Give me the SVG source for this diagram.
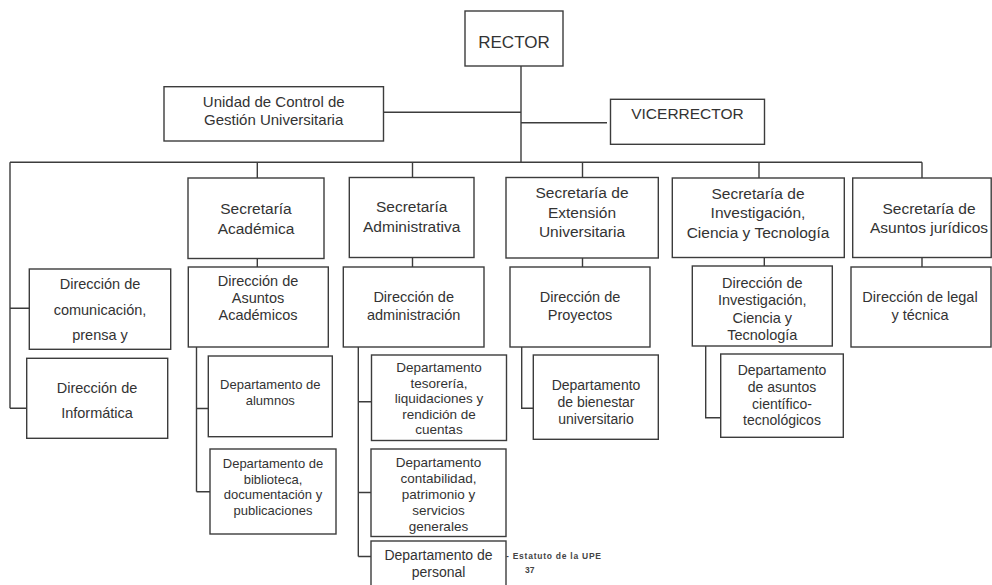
<svg xmlns="http://www.w3.org/2000/svg" width="992" height="585" viewBox="0 0 992 585">
<style>
.b{fill:#fff;stroke:#3c3c3c;stroke-width:1.4}
.c{fill:none;stroke:#3c3c3c;stroke-width:1.4}
text{font-family:"Liberation Sans",Arial,sans-serif;fill:#333;text-anchor:middle}
.f17{font-size:17px}.f15{font-size:15.5px}.f145{font-size:14.5px}.f14{font-size:14px}.f13{font-size:13px}.f135{font-size:13.5px}
.note{font-size:8.5px;font-weight:bold;text-anchor:start;fill:#444}
</style>
<rect width="992" height="585" fill="#fff"/>
<g id="connectors">
<path class="c" d="M521 66V162M384 112.3H521M521 122.7H607"/>
<path class="c" d="M10 162.3H922M10 162.3V408.3M10 308.3H29.3M10 408.3H26.7"/>
<path class="c" d="M257.3 162.3V178M412.5 162.3V178M582.5 162.3V178M759 162.3V178M922 162.3V178"/>
<path class="c" d="M257.3 258V267M412.5 258V267M582.5 258V267M764.3 258V266M922 258V267"/>
<path class="c" d="M196.5 347V491.7M196.5 408.5H208.3M196.5 491.7H210"/>
<path class="c" d="M358.3 347V556.5M358.3 401.7H371.5M358.3 492.5H371M358.3 556.5H371"/>
<path class="c" d="M521.7 347V408.3H533.3"/>
<path class="c" d="M705.7 346V417.7H720.7"/>
</g>
<g id="rector"><rect class="b" x="465" y="11" width="98" height="55"/><text class="f17" x="514" y="48">RECTOR</text></g>
<g id="unidad"><rect class="b" x="164" y="86.7" width="219.5" height="54.3"/><text x="273.7" y="106.5" style="font-size:15px">Unidad de Control de</text><text x="273.7" y="125" style="font-size:15px">Gestión Universitaria</text></g>
<g id="vicerrector"><rect class="b" x="610.5" y="99.3" width="154" height="45"/><text class="f15" x="687.5" y="119.3">VICERRECTOR</text></g>

<g id="sec-academica"><rect class="b" x="188" y="178" width="136" height="80.5"/><text class="f15" x="256" y="214">Secretaría</text><text class="f15" x="256" y="233.5">Académica</text></g>
<g id="sec-administrativa"><rect class="b" x="349.3" y="177.5" width="124.7" height="80"/><text class="f15" x="411.7" y="212">Secretaría</text><text class="f15" x="411.7" y="232">Administrativa</text></g>
<g id="sec-extension"><rect class="b" x="506" y="177.5" width="152.3" height="80.5"/><text class="f15" x="582" y="198">Secretaría de</text><text class="f15" x="582" y="217.5">Extensión</text><text class="f15" x="582" y="237">Universitaria</text></g>
<g id="sec-investigacion"><rect class="b" x="672.3" y="178" width="172" height="79.5"/><text class="f15" x="758" y="198.5">Secretaría de</text><text class="f15" x="758" y="218">Investigación,</text><text class="f15" x="758" y="237.5">Ciencia y Tecnología</text></g>
<g id="sec-juridicos"><rect class="b" x="852.7" y="178" width="138.5" height="79.5"/><text class="f15" x="929" y="213.5">Secretaría de</text><text class="f15" x="929" y="233">Asuntos jurídicos</text></g>

<g id="dir-comunicacion"><rect class="b" x="29.3" y="269" width="141.4" height="80.3"/><text class="f145" x="100" y="289">Dirección de</text><text class="f145" x="100" y="315">comunicación,</text><text class="f145" x="100" y="340">prensa y</text></g>
<g id="dir-informatica"><rect class="b" x="26.7" y="358.3" width="141" height="80"/><text class="f145" x="97" y="393.3">Dirección de</text><text class="f145" x="97" y="418.3">Informática</text></g>
<g id="dir-asuntos-academicos"><rect class="b" x="188.3" y="267" width="140" height="80"/><text class="f145" x="258" y="286">Dirección de</text><text class="f145" x="258" y="303">Asuntos</text><text class="f145" x="258" y="320">Académicos</text></g>
<g id="dir-administracion"><rect class="b" x="343.3" y="267" width="140.7" height="80"/><text class="f145" x="413.7" y="302">Dirección de</text><text class="f145" x="413.7" y="319.5">administración</text></g>
<g id="dir-proyectos"><rect class="b" x="510" y="267" width="140" height="80"/><text class="f145" x="580" y="302">Dirección de</text><text class="f145" x="580" y="319.5">Proyectos</text></g>
<g id="dir-investigacion"><rect class="b" x="692.3" y="266" width="140" height="80"/><text class="f145" x="762.3" y="287.5">Dirección de</text><text class="f145" x="762.3" y="305">Investigación,</text><text class="f145" x="762.3" y="322.5">Ciencia y</text><text class="f145" x="762.3" y="340">Tecnología</text></g>
<g id="dir-legal"><rect class="b" x="851" y="267" width="140" height="80"/><text class="f145" x="920" y="302">Dirección de legal</text><text class="f145" x="920" y="319.5">y técnica</text></g>

<g id="dep-alumnos"><rect class="b" x="208.3" y="356" width="124" height="80.7"/><text class="f13" x="270.3" y="389">Departamento de</text><text class="f13" x="270.3" y="405">alumnos</text></g>
<g id="dep-biblioteca"><rect class="b" x="210" y="449" width="126" height="85"/><text class="f13" x="273" y="468">Departamento de</text><text class="f13" x="273" y="483.5">biblioteca,</text><text class="f13" x="273" y="499">documentación y</text><text class="f13" x="273" y="514.5">publicaciones</text></g>
<g id="dep-tesoreria"><rect class="b" x="371.5" y="355" width="135" height="85.5"/><text class="f135" x="439" y="372">Departamento</text><text class="f135" x="439" y="387.5">tesorería,</text><text class="f135" x="439" y="403">liquidaciones y</text><text class="f135" x="439" y="418.5">rendición de</text><text class="f135" x="439" y="434">cuentas</text></g>
<g id="dep-contabilidad"><rect class="b" x="371" y="449" width="135" height="87.5"/><text class="f135" x="438.5" y="467">Departamento</text><text class="f135" x="438.5" y="483">contabilidad,</text><text class="f135" x="438.5" y="499">patrimonio y</text><text class="f135" x="438.5" y="515">servicios</text><text class="f135" x="438.5" y="531">generales</text></g>
<g id="dep-personal"><rect class="b" x="371" y="541" width="135" height="50"/><text class="f14" x="438.5" y="560">Departamento de</text><text class="f14" x="438.5" y="577">personal</text></g>
<g id="dep-bienestar"><rect class="b" x="533.3" y="355" width="125" height="84.3"/><text class="f14" x="596" y="389.5">Departamento</text><text class="f14" x="596" y="406.5">de bienestar</text><text class="f14" x="596" y="423.5">universitario</text></g>
<g id="dep-cientifico"><rect class="b" x="720.7" y="354" width="122.6" height="83.3"/><text class="f14" x="782" y="375">Departamento</text><text class="f14" x="782" y="392">de asuntos</text><text class="f14" x="782" y="408.5">científico-</text><text class="f14" x="782" y="425">tecnológicos</text></g>

<text class="note" x="506" y="559" textLength="95" lengthAdjust="spacing">- Estatuto de la UPE</text>
<text class="note" x="525" y="573">37</text>
</svg>
